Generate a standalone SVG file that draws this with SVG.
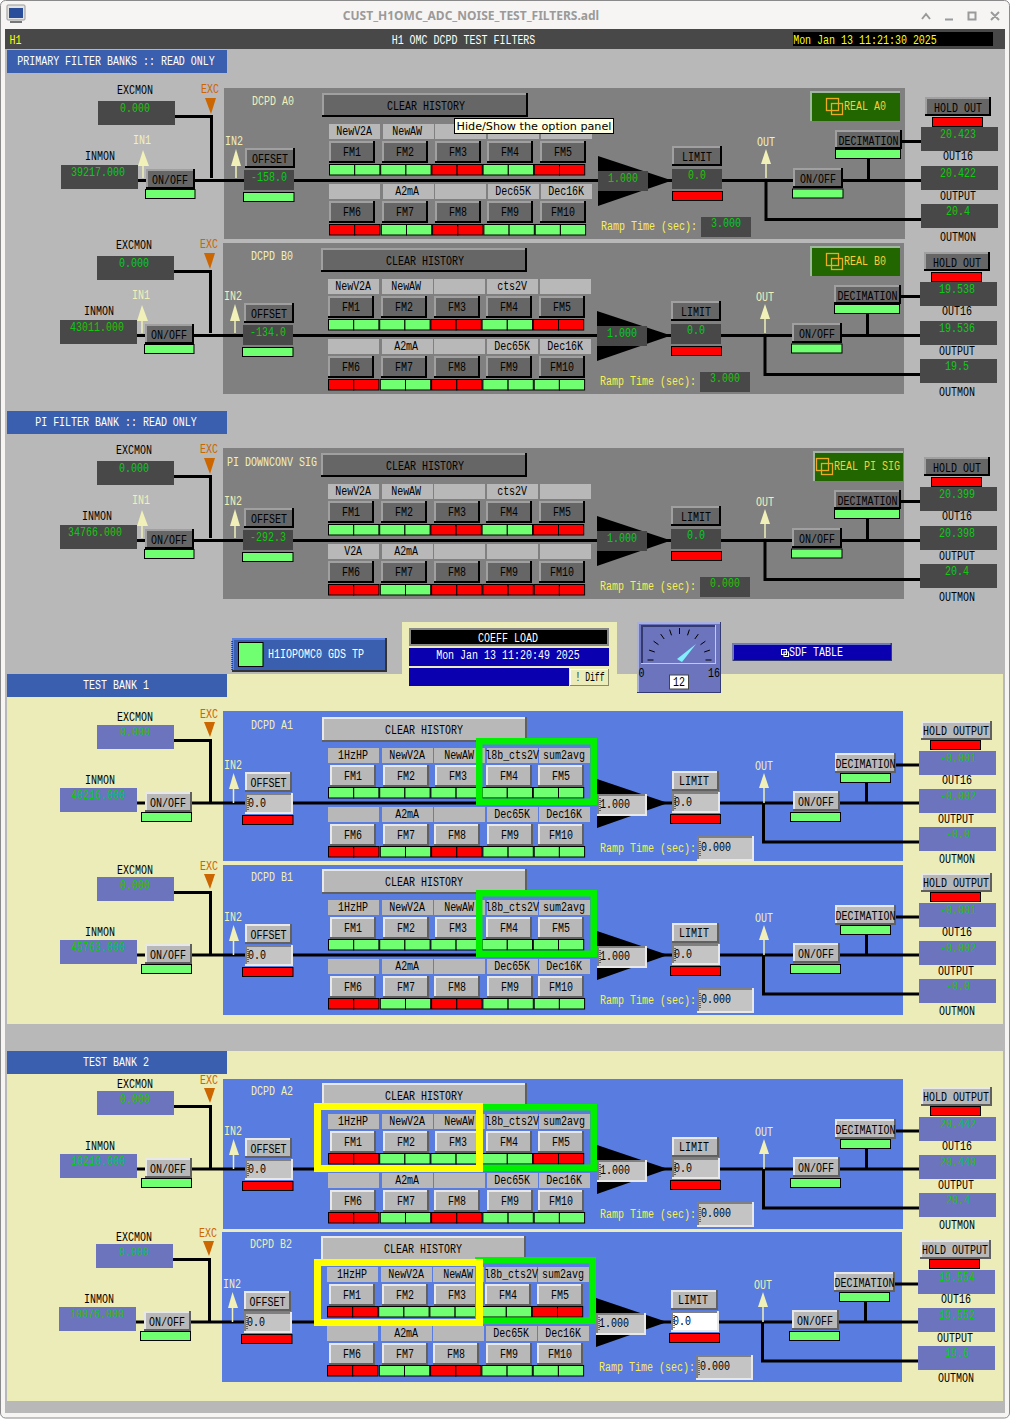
<svg xmlns="http://www.w3.org/2000/svg" width="1011" height="1419" viewBox="0 0 1011 1419">
<style>
text{font:13.5px "Liberation Mono",monospace;text-anchor:middle;transform-box:fill-box;transform-origin:center;transform:scaleX(.74);fill:#000}
.n{transform:none}
.d{--f:#666;--h:#a0a0a0;--l:#000;--b:#484848}
.s{--f:#b8b8b8;--h:#e8e8e8;--l:#606060;--b:#6b74bd}
.fa{fill:var(--f)}.hi{fill:var(--h)}.lo{fill:var(--l)}.bx{fill:var(--b)}
.lb{fill:#b8b8b8}.gr{fill:#70ff70;stroke:#000}.rd{fill:#f00;stroke:#000}
.vd{fill:#808080}.vl{fill:#e8e8e8}.vf{fill:#c4c4c4}
.ar{fill:#f0f0b8}.al{stroke:#f0f0b8;stroke-width:1.5;fill:none}.ex{fill:#c60}.tr{fill:#000}
.v{fill:#10c810}.y{fill:#f0f0b8}.o{fill:#c60}.a{fill:#f8f050}.w{fill:#fff}.rt{fill:#fc3}
.wire{fill:none;stroke:#000;stroke-width:3}
.cr{fill:none;stroke:#000;stroke-width:1;stroke-dasharray:1 1}
.hg{fill:none;stroke:#00f000;stroke-width:6.5}.hy{fill:none;stroke:#ff0;stroke-width:7}
.bar{fill:#3a5fae}.wb{fill:none;stroke:#9a9a9a;stroke-width:2}
</style>
<defs>
<g id="fm"><rect class="lo" width="46" height="22"/><rect class="hi" width="44" height="20"/><rect class="fa" x="2" y="2" width="42" height="18"/></g>
<g id="G"><rect class="gr" width="25.2" height="10.5"/><rect class="gr" x="25.2" width="25.2" height="10.5"/></g>
<g id="R"><rect class="rd" width="25.2" height="10.5"/><rect class="rd" x="25.2" width="25.2" height="10.5"/></g>
<g id="stripD">
<g class="lb"><rect x="329" y="124" width="51" height="15"/><rect x="383" y="124" width="51" height="15"/><rect x="435" y="124" width="51" height="15"/><rect x="488" y="124" width="51" height="15"/><rect x="541" y="124" width="51" height="15"/><rect x="329" y="184" width="51" height="15"/><rect x="383" y="184" width="51" height="15"/><rect x="435" y="184" width="51" height="15"/><rect x="488" y="184" width="51" height="15"/><rect x="541" y="184" width="51" height="15"/></g>
<use href="#fm" x="329" y="141"/><use href="#fm" x="382" y="141"/><use href="#fm" x="435" y="141"/><use href="#fm" x="487" y="141"/><use href="#fm" x="540" y="141"/>
<use href="#fm" x="329" y="201"/><use href="#fm" x="382" y="201"/><use href="#fm" x="435" y="201"/><use href="#fm" x="487" y="201"/><use href="#fm" x="540" y="201"/>
</g>
<g id="stripL">
<g class="lb"><rect x="328" y="748" width="51" height="15"/><rect x="382" y="748" width="51" height="15"/><rect x="434" y="748" width="51" height="15"/><rect x="487" y="748" width="51" height="15"/><rect x="539" y="748" width="51" height="15"/><rect x="328" y="807" width="51" height="15"/><rect x="382" y="807" width="51" height="15"/><rect x="434" y="807" width="51" height="15"/><rect x="487" y="807" width="51" height="15"/><rect x="539" y="807" width="51" height="15"/></g>
<use href="#fm" x="330" y="765"/><use href="#fm" x="383" y="765"/><use href="#fm" x="435" y="765"/><use href="#fm" x="486" y="765"/><use href="#fm" x="538" y="765"/>
<use href="#fm" x="330" y="824"/><use href="#fm" x="383" y="824"/><use href="#fm" x="434" y="824"/><use href="#fm" x="487" y="824"/><use href="#fm" x="538" y="824"/>
</g>
<g id="dtop"><use href="#G" x="329.5" y="164.5"/><use href="#G" x="380.7" y="164.5"/><use href="#R" x="431.9" y="164.5"/><use href="#G" x="483.1" y="164.5"/><use href="#R" x="534.3" y="164.5"/></g>
<g id="dbot"><use href="#R" x="329.5" y="224.5"/><use href="#G" x="381.3" y="224.5"/><use href="#R" x="432.6" y="224.5"/><use href="#G" x="483.9" y="224.5"/><use href="#G" x="535.2" y="224.5"/></g>
<g id="pbot"><use href="#R" x="329.5" y="224.5"/><use href="#G" x="381.3" y="224.5"/><use href="#R" x="432.6" y="224.5"/><use href="#R" x="483.9" y="224.5"/><use href="#R" x="535.2" y="224.5"/></g>
<g id="ltopG"><use href="#G" x="328.5" y="787.5"/><use href="#G" x="379.7" y="787.5"/><use href="#G" x="430.9" y="787.5"/><use href="#G" x="482.1" y="787.5"/><use href="#G" x="533.3" y="787.5"/></g>
<g id="ltopR"><use href="#R" x="328.5" y="787.5"/><use href="#G" x="379.7" y="787.5"/><use href="#G" x="430.9" y="787.5"/><use href="#G" x="482.1" y="787.5"/><use href="#R" x="533.3" y="787.5"/></g>
<g id="lbot"><use href="#R" x="328.5" y="846.5"/><use href="#G" x="380.3" y="846.5"/><use href="#R" x="431.6" y="846.5"/><use href="#G" x="482.9" y="846.5"/><use href="#G" x="534.2" y="846.5"/></g>
<g id="rl"><rect x="810" y="91" width="90" height="30" fill="#a0b8a0"/><rect x="812" y="93" width="88" height="28" fill="#226600"/></g>
<g id="ic" fill="none" stroke="#eeaa22" stroke-width="1.3"><rect x="826.5" y="98.5" width="12" height="12"/><rect x="831.5" y="103.5" width="11" height="11"/></g>
<g id="sD">
<rect class="bx" x="98" y="101" width="77" height="24"/><rect class="bx" x="61" y="165" width="77" height="24"/>
<polygon class="ex" points="205,98 216,98 211,114"/>
<polygon class="ar" points="143,150 138,166 149,166"/><path class="al" d="M143 166V178"/>
<rect class="lo" x="146" y="169" width="49" height="20"/><rect class="hi" x="146" y="169" width="47" height="18"/><rect class="fa" x="148" y="171" width="45" height="16"/>
<rect class="gr" x="145.5" y="189.5" width="49.5" height="9"/>
<polygon class="ar" points="236,149 231,166 241,166"/><path class="al" d="M236 166V178"/>
<rect class="lo" x="245" y="148" width="50" height="20"/><rect class="hi" x="245" y="148" width="48" height="18"/><rect class="fa" x="247" y="150" width="46" height="16"/>
<rect class="bx" x="244" y="170" width="50" height="20"/><rect class="gr" x="243.5" y="192.5" width="50.5" height="9"/>
<rect class="lo" x="322" y="93" width="206" height="24"/><rect class="hi" x="322" y="93" width="204" height="22"/><rect class="fa" x="324" y="95" width="202" height="20"/>
<polygon class="tr" points="598,156 672,180.5 598,206"/><rect class="bx" x="598" y="171" width="50" height="20"/>
<rect class="lo" x="672" y="146" width="50" height="20"/><rect class="hi" x="672" y="146" width="48" height="18"/><rect class="fa" x="674" y="148" width="46" height="16"/>
<rect class="bx" x="672" y="169" width="50" height="20"/><rect class="rd" x="672.5" y="191.5" width="50" height="9"/>
<polygon class="ar" points="766,149 761,164 771,164"/><path class="al" d="M766 164V178"/>
<rect class="lo" x="793" y="168" width="50" height="20"/><rect class="hi" x="793" y="168" width="48" height="18"/><rect class="fa" x="795" y="170" width="46" height="16"/>
<rect class="gr" x="792.5" y="189" width="50.5" height="9"/>
<rect class="lo" x="835" y="130" width="67" height="19"/><rect class="hi" x="835" y="130" width="65" height="17"/><rect class="fa" x="837" y="132" width="63" height="15"/>
<rect class="gr" x="835.5" y="149.5" width="65" height="9"/>
<rect class="lo" x="925" y="97" width="66" height="19"/><rect class="hi" x="925" y="97" width="64" height="17"/><rect class="fa" x="927" y="99" width="62" height="15"/>
<rect class="rd" x="932.5" y="117.5" width="50" height="9"/>
<rect class="bx" x="921" y="127" width="77" height="24"/><rect class="bx" x="921" y="166" width="77" height="24"/><rect class="bx" x="921" y="204" width="77" height="24"/>
<rect class="bx" x="701" y="217" width="50" height="20"/>
</g>
<g id="sL">
<rect class="bx" x="97" y="725" width="77" height="24"/><rect class="bx" x="60" y="788" width="77" height="24"/>
<polygon class="ex" points="204,722 215,722 210,737"/>
<rect class="lo" x="145" y="792" width="47" height="20"/><rect class="hi" x="145" y="792" width="45" height="18"/><rect class="fa" x="147" y="794" width="43" height="16"/>
<rect class="gr" x="141.5" y="812.5" width="50" height="9"/>
<polygon class="ar" points="233.5,773 229,789 239,789"/><path class="al" d="M233.5 789V803"/>
<rect class="lo" x="245" y="772" width="47" height="20"/><rect class="hi" x="245" y="772" width="45" height="18"/><rect class="fa" x="247" y="774" width="43" height="16"/>
<rect class="vl" x="245" y="793" width="48" height="21"/><rect class="vd" x="245" y="793" width="46" height="19"/><rect class="vf" x="247" y="795" width="44" height="17"/><path class="cr" d="M248 797V810"/>
<rect class="rd" x="242.5" y="815.5" width="50.5" height="9"/>
<rect class="lo" x="322" y="717" width="205" height="25"/><rect class="hi" x="322" y="717" width="203" height="23"/><rect class="fa" x="324" y="719" width="201" height="21"/>
<polygon class="tr" points="597,779 668,803 597,828"/>
<rect class="vl" x="597" y="794" width="50" height="22"/><rect class="vd" x="597" y="794" width="48" height="20"/><rect class="vf" x="599" y="796" width="46" height="18"/><path class="cr" d="M600 798V812"/>
<rect class="lo" x="672" y="771" width="47" height="20"/><rect class="hi" x="672" y="771" width="45" height="18"/><rect class="fa" x="674" y="773" width="43" height="16"/>
<rect class="vl" x="672" y="792" width="48" height="21"/><rect class="vd" x="672" y="792" width="46" height="19"/><rect class="vf" x="674" y="794" width="44" height="17"/><path class="cr" d="M675 796V809"/>
<rect class="rd" x="670.5" y="814.5" width="50" height="9"/>
<polygon class="ar" points="764,773 759,788 769,788"/><path class="al" d="M764 788V803"/>
<rect class="lo" x="793" y="791" width="47" height="20"/><rect class="hi" x="793" y="791" width="45" height="18"/><rect class="fa" x="795" y="793" width="43" height="16"/>
<rect class="gr" x="790.5" y="812.5" width="50" height="9"/>
<rect class="lo" x="835" y="753" width="61" height="20"/><rect class="hi" x="835" y="753" width="59" height="18"/><rect class="fa" x="837" y="755" width="57" height="16"/>
<rect class="gr" x="840.5" y="773.5" width="50" height="9"/>
<rect class="lo" x="921" y="721" width="71" height="19"/><rect class="hi" x="921" y="721" width="69" height="17"/><rect class="fa" x="923" y="723" width="67" height="15"/>
<rect class="rd" x="930.5" y="740.5" width="50" height="9"/>
<rect class="bx" x="919" y="751" width="77" height="24"/><rect class="bx" x="919" y="789" width="77" height="24"/><rect class="bx" x="919" y="827" width="77" height="24"/>
<rect class="vl" x="697" y="836" width="57" height="25"/><rect class="vd" x="697" y="836" width="55" height="23"/><rect class="vf" x="699" y="838" width="53" height="21"/><path class="cr" d="M700 841V856"/>
</g>
</defs>

<g id="background">
<rect width="1011" height="1419" fill="#fff"/>
<rect x=".5" y=".5" width="1009" height="1417.5" rx="5" fill="#f6f5f4" stroke="#8a8a8a"/>
<rect x="5" y="49" width="1000" height="1364" fill="#b8b8b8"/>
<rect x="5" y="29" width="1000" height="20" fill="#484848"/>
<rect x="7" y="674" width="996" height="350" fill="#ececb8"/>
<rect x="7" y="1051" width="996" height="350" fill="#ececb8"/>
<rect x="402" y="622" width="215" height="53" fill="#ececb8"/>
<rect class="bar" x="7" y="50" width="220" height="23"/>
<rect class="bar" x="7" y="411" width="220" height="23"/>
<rect class="bar" x="7" y="674" width="220" height="23"/>
<rect class="bar" x="7" y="1051" width="220" height="23"/>
<rect x="224" y="88" width="681" height="151" fill="#808080"/>
<rect x="223" y="243" width="681" height="151" fill="#808080"/>
<rect x="223" y="448" width="681" height="151" fill="#808080"/>
<rect x="223" y="711" width="680" height="150" fill="#587ce0"/>
<rect x="223" y="865" width="680" height="150" fill="#587ce0"/>
<rect x="223" y="1079" width="680" height="150" fill="#587ce0"/>
<rect x="222" y="1232" width="680" height="150" fill="#587ce0"/>
</g>

<g id="titlebar">
<rect x="7" y="5" width="18" height="15" rx="1" fill="#e4e4e4" stroke="#999"/><rect x="9" y="8" width="14" height="10" fill="#2a4e9a"/><rect x="10" y="21" width="12" height="2" fill="#777"/>
<text class="n" x="471" y="20" style="font:bold 12px 'Noto Sans',sans-serif;fill:#9a9a9a">CUST_H1OMC_ADC_NOISE_TEST_FILTERS.adl</text>
<path class="wb" d="M922 19L926 14L930 19M945 19.5H953M968.5 12.5H975.5V19.5H968.5ZM991 12L999 20M999 12L991 20"/>
<text style="fill:#ff0" x="15.5" y="44">H1</text>
<text class="w" x="463.5" y="44">H1 OMC DCPD TEST FILTERS</text>
<rect x="793" y="32" width="200" height="14" fill="#000"/>
<text style="fill:#ff0" x="865" y="44">Mon Jan 13 11:21:30 2025</text>
<text class="w" x="116" y="65">PRIMARY FILTER BANKS :: READ ONLY</text>
<text class="w" x="116" y="426">PI FILTER BANK :: READ ONLY</text>
<text class="w" x="116" y="689">TEST BANK 1</text>
<text class="w" x="116" y="1066">TEST BANK 2</text>
</g>

<g id="connectors">
<path class="wire" d="M138 180.5H921M175 116.5H211.5V178M766 180V219.5H921M900 141.5H921M868.5 159V180"/>
<path class="wire" transform="translate(-1,155)" d="M138 180.5H921M175 116.5H211.5V178M766 180V219.5H921M900 141.5H921M868.5 159V180"/>
<path class="wire" transform="translate(-1,360)" d="M138 180.5H921M175 116.5H211.5V178M766 180V219.5H921M900 141.5H921M868.5 159V180"/>
<path class="wire" d="M137 803H919M174 740.5H210.5V803M763.5 803V842H919M895 765H919M866.5 783V803"/>
<path class="wire" transform="translate(0,152)" d="M137 803H919M174 740.5H210.5V803M763.5 803V842H919M895 765H919M866.5 783V803"/>
<path class="wire" transform="translate(0,366)" d="M137 803H919M174 740.5H210.5V803M763.5 803V842H919M895 765H919M866.5 783V803"/>
<path class="wire" transform="translate(-1,519)" d="M137 803H919M174 740.5H210.5V803M763.5 803V842H919M895 765H919M866.5 783V803"/>
</g>

<g id="bank-a0" class="d">
<use href="#sD"/><use href="#stripD"/><use href="#dtop"/><use href="#dbot"/><use href="#rl"/><use href="#ic"/>
<text x="135" y="94">EXCMON</text><text x="100" y="160">INMON</text><text class="o" x="210" y="93">EXC</text><text class="y" x="142" y="144">IN1</text><text class="y" x="234" y="145">IN2</text><text class="y" x="273" y="105">DCPD A0</text>
<text class="v" x="135" y="112">0.000</text><text class="v" x="98" y="176.5">39217.000</text><text x="170" y="184">ON/OFF</text><text x="270" y="163">OFFSET</text><text class="v" x="269" y="181">-158.0</text>
<text x="426" y="110">CLEAR HISTORY</text>
<text x="354" y="135">NewV2A</text><text x="407" y="135">NewAW</text><text x="407" y="195">A2mA</text><text x="513" y="195">Dec65K</text><text x="566" y="195">Dec16K</text>
<text x="352" y="156">FM1</text><text x="405" y="156">FM2</text><text x="458" y="156">FM3</text><text x="510" y="156">FM4</text><text x="563" y="156">FM5</text><text x="352" y="216">FM6</text><text x="405" y="216">FM7</text><text x="458" y="216">FM8</text><text x="510" y="216">FM9</text><text x="563" y="216">FM10</text>
<text class="v" x="623" y="182">1.000</text><text x="697" y="161">LIMIT</text><text class="v" x="697" y="179">0.0</text><text class="y" x="766" y="146">OUT</text><text x="818" y="183">ON/OFF</text><text x="868.5" y="145">DECIMATION</text><text x="958" y="112">HOLD OUT</text>
<text class="rt" x="865" y="110">REAL A0</text>
<text class="v" x="958" y="138">20.423</text><text x="958" y="160">OUT16</text><text class="v" x="958" y="177">20.422</text><text x="958" y="200">OUTPUT</text><text class="v" x="958" y="215">20.4</text><text x="958" y="241">OUTMON</text>
<text class="a" x="649" y="230">Ramp Time (sec):</text><text class="v" x="726" y="227">3.000</text>
</g>

<g id="bank-b0" class="d" transform="translate(-1,155)">
<use href="#sD"/><use href="#stripD"/><use href="#dtop"/><use href="#dbot"/><use href="#rl" x="1"/><use href="#ic" x="1"/>
<text x="135" y="94">EXCMON</text><text x="100" y="160">INMON</text><text class="o" x="210" y="93">EXC</text><text class="y" x="142" y="144">IN1</text><text class="y" x="234" y="145">IN2</text><text class="y" x="273" y="105">DCPD B0</text>
<text class="v" x="135" y="112">0.000</text><text class="v" x="98" y="176.5">43011.000</text><text x="170" y="184">ON/OFF</text><text x="270" y="163">OFFSET</text><text class="v" x="269" y="181">-134.0</text>
<text x="426" y="110">CLEAR HISTORY</text>
<text x="354" y="135">NewV2A</text><text x="407" y="135">NewAW</text><text x="513" y="135">cts2V</text><text x="407" y="195">A2mA</text><text x="513" y="195">Dec65K</text><text x="566" y="195">Dec16K</text>
<text x="352" y="156">FM1</text><text x="405" y="156">FM2</text><text x="458" y="156">FM3</text><text x="510" y="156">FM4</text><text x="563" y="156">FM5</text><text x="352" y="216">FM6</text><text x="405" y="216">FM7</text><text x="458" y="216">FM8</text><text x="510" y="216">FM9</text><text x="563" y="216">FM10</text>
<text class="v" x="623" y="182">1.000</text><text x="697" y="161">LIMIT</text><text class="v" x="697" y="179">0.0</text><text class="y" x="766" y="146">OUT</text><text x="818" y="183">ON/OFF</text><text x="868.5" y="145">DECIMATION</text><text x="958" y="112">HOLD OUT</text>
<text class="rt" x="866" y="110">REAL B0</text>
<text class="v" x="958" y="138">19.538</text><text x="958" y="160">OUT16</text><text class="v" x="958" y="177">19.536</text><text x="958" y="200">OUTPUT</text><text class="v" x="958" y="215">19.5</text><text x="958" y="241">OUTMON</text>
<text class="a" x="649" y="230">Ramp Time (sec):</text><text class="v" x="726" y="227">3.000</text>
</g>

<g id="bank-pi" class="d" transform="translate(-1,360)">
<use href="#sD"/><use href="#stripD"/><use href="#dtop"/><use href="#pbot"/><use href="#rl" x="4"/><use href="#ic" x="-9"/>
<text x="135" y="94">EXCMON</text><text x="98" y="160">INMON</text><text class="o" x="210" y="93">EXC</text><text class="y" x="142" y="144">IN1</text><text class="y" x="234" y="145">IN2</text><text class="y" x="273" y="106">PI DOWNCONV SIG</text>
<text class="v" x="135" y="112">0.000</text><text class="v" x="96" y="176.5">34766.000</text><text x="170" y="184">ON/OFF</text><text x="270" y="163">OFFSET</text><text class="v" x="269" y="181">-292.3</text>
<text x="426" y="110">CLEAR HISTORY</text>
<text x="354" y="135">NewV2A</text><text x="407" y="135">NewAW</text><text x="513" y="135">cts2V</text><text x="354" y="195">V2A</text><text x="407" y="195">A2mA</text>
<text x="352" y="156">FM1</text><text x="405" y="156">FM2</text><text x="458" y="156">FM3</text><text x="510" y="156">FM4</text><text x="563" y="156">FM5</text><text x="352" y="216">FM6</text><text x="405" y="216">FM7</text><text x="458" y="216">FM8</text><text x="510" y="216">FM9</text><text x="563" y="216">FM10</text>
<text class="v" x="623" y="182">1.000</text><text x="697" y="161">LIMIT</text><text class="v" x="697" y="179">0.0</text><text class="y" x="766" y="146">OUT</text><text x="818" y="183">ON/OFF</text><text x="868.5" y="145">DECIMATION</text><text x="958" y="112">HOLD OUT</text>
<text class="rt" x="868" y="110">REAL PI SIG</text>
<text class="v" x="958" y="138">20.399</text><text x="958" y="160">OUT16</text><text class="v" x="958" y="177">20.398</text><text x="958" y="200">OUTPUT</text><text class="v" x="958" y="215">20.4</text><text x="958" y="241">OUTMON</text>
<text class="a" x="649" y="230">Ramp Time (sec):</text><text class="v" x="726" y="227">0.000</text>
</g>

<g id="tooltip">
<rect x="454.5" y="118.5" width="159" height="15" fill="#ffffe1" stroke="#000"/>
<text class="n" x="534" y="130" style="font:11.2px 'DejaVu Sans',sans-serif">Hide/Show the option panel</text>
</g>

<g id="gds-tp">
<rect x="232" y="638" width="155" height="34" fill="#333"/><rect x="232" y="638" width="153" height="32" fill="#5a80e0"/><rect x="234" y="640" width="151" height="30" class="bar"/>
<path class="cr" d="M232 641V670"/>
<rect x="238.5" y="642.5" width="24.5" height="24" fill="#70ff70" stroke="#000"/>
<text class="w" x="316" y="658">H1IOPOMC0 GDS TP</text>
</g>
<g id="coeff-load">
<rect x="409" y="628" width="200" height="18" fill="#888"/><rect x="411" y="630" width="196" height="14" fill="#000"/>
<text class="w" x="508" y="642">COEFF LOAD</text>
<rect x="409" y="648" width="200" height="18" fill="#0a00b0"/>
<text class="w" x="508" y="659">Mon Jan 13 11:20:49 2025</text>
<rect x="409" y="668" width="160" height="18" fill="#0a00b0"/>
<rect x="570" y="669" width="39" height="17" fill="#8a8a68"/><rect x="570" y="669" width="38" height="16" fill="#fff"/><rect x="571" y="670" width="37" height="15" fill="#ececb8"/>
<text x="590" y="681" style="transform:scaleX(.6)">! Diff</text>
</g>
<g id="gauge">
<rect x="637" y="622" width="84" height="71" fill="#333a70"/><rect x="637" y="622" width="83" height="70" fill="#a8b0e0"/><rect x="639" y="624" width="81" height="68" fill="#6b74bd"/>
<rect x="641" y="625" width="75" height="39" fill="#c0c8f0"/><rect x="641" y="625" width="74" height="38" fill="#333a70"/><rect x="643" y="627" width="72" height="36" fill="#6b74bd"/>
<path d="M647.5 660H653.5M649.1 650.1L654.8 652M653.6 641.2L658.5 644.7M660.7 634.1L664.2 639M669.6 629.6L671.5 635.3M679.5 628V634M689.4 629.6L687.5 635.3M698.3 634.1L694.8 639M705.4 641.2L700.5 644.7M709.9 650.1L704.2 652M711.5 660H705.5" stroke="#000" fill="none"/>
<polygon points="677,659 682,662 696,644" fill="#80f0ff"/>
<text x="641.5" y="677">0</text><text x="714" y="677">16</text>
<rect x="669.5" y="675" width="19" height="14" fill="#fff" stroke="#444"/><text x="679" y="686.5">12</text>
</g>
<g id="sdf-table">
<rect x="732.5" y="643" width="159.5" height="18" fill="#333a70"/><rect x="732.5" y="643" width="158" height="16.5" fill="#7078c0"/><rect x="734" y="645" width="157" height="15" fill="#0a00b0"/>
<g fill="none" stroke="#fff"><rect x="781.5" y="649.5" width="5" height="5"/><rect x="784" y="652" width="4.5" height="4.5"/></g>
<text class="w" x="816" y="656">SDF TABLE</text>
</g>

<g id="bank-a1" class="s">
<use href="#sL"/><use href="#stripL"/><use href="#ltopG"/><use href="#lbot"/>
<text x="135" y="721">EXCMON</text><text x="100" y="784">INMON</text><text class="o" x="209" y="718">EXC</text><text class="y" x="233" y="769">IN2</text><text class="y" x="272" y="729">DCPD A1</text>
<text class="v" x="135" y="736">0.000</text><text class="v" x="98" y="799.5">40216.000</text><text x="168" y="807">ON/OFF</text><text x="268.5" y="787">OFFSET</text><text x="257" y="807">0.0</text>
<text x="424" y="734">CLEAR HISTORY</text>
<text x="353" y="759">1HzHP</text><text x="407" y="759">NewV2A</text><text x="459" y="759">NewAW</text><text x="512" y="759">l8b_cts2V</text><text x="564" y="759">sum2avg</text><text x="407" y="818">A2mA</text><text x="512" y="818">Dec65K</text><text x="564" y="818">Dec16K</text>
<text x="353" y="780">FM1</text><text x="406" y="780">FM2</text><text x="458" y="780">FM3</text><text x="509" y="780">FM4</text><text x="561" y="780">FM5</text><text x="353" y="839">FM6</text><text x="406" y="839">FM7</text><text x="457" y="839">FM8</text><text x="510" y="839">FM9</text><text x="561" y="839">FM10</text>
<text x="615" y="808">1.000</text><text x="694" y="785">LIMIT</text><text x="683" y="806">0.0</text><text class="y" x="764" y="770">OUT</text><text x="816" y="806">ON/OFF</text><text x="865.5" y="768">DECIMATION</text><text x="956" y="735">HOLD OUTPUT</text>
<text class="v" x="958" y="762">-0.001</text><text x="957" y="784">OUT16</text><text class="v" x="958" y="800">-0.002</text><text x="956" y="823">OUTPUT</text><text class="v" x="958" y="838">-0.0</text><text x="957" y="863">OUTMON</text>
<text class="a" x="648" y="852">Ramp Time (sec):</text><text x="716" y="851">0.000</text>
<rect class="hg" x="479.25" y="741.25" width="114.5" height="60.5"/>
</g>

<g id="bank-b1" class="s" transform="translate(0,152)">
<use href="#sL"/><use href="#stripL"/><use href="#ltopG"/><use href="#lbot"/>
<text x="135" y="722">EXCMON</text><text x="100" y="784">INMON</text><text class="o" x="209" y="718">EXC</text><text class="y" x="233" y="769">IN2</text><text class="y" x="272" y="729">DCPD B1</text>
<text class="v" x="135" y="737">0.000</text><text class="v" x="98" y="799.5">45763.000</text><text x="168" y="807">ON/OFF</text><text x="268.5" y="787">OFFSET</text><text x="257" y="807">0.0</text>
<text x="424" y="734">CLEAR HISTORY</text>
<text x="353" y="759">1HzHP</text><text x="407" y="759">NewV2A</text><text x="459" y="759">NewAW</text><text x="512" y="759">l8b_cts2V</text><text x="564" y="759">sum2avg</text><text x="407" y="818">A2mA</text><text x="512" y="818">Dec65K</text><text x="564" y="818">Dec16K</text>
<text x="353" y="780">FM1</text><text x="406" y="780">FM2</text><text x="458" y="780">FM3</text><text x="509" y="780">FM4</text><text x="561" y="780">FM5</text><text x="353" y="839">FM6</text><text x="406" y="839">FM7</text><text x="457" y="839">FM8</text><text x="510" y="839">FM9</text><text x="561" y="839">FM10</text>
<text x="615" y="808">1.000</text><text x="694" y="785">LIMIT</text><text x="683" y="806">0.0</text><text class="y" x="764" y="770">OUT</text><text x="816" y="806">ON/OFF</text><text x="865.5" y="768">DECIMATION</text><text x="956" y="735">HOLD OUTPUT</text>
<text class="v" x="958" y="762">-0.001</text><text x="957" y="784">OUT16</text><text class="v" x="958" y="800">-0.002</text><text x="956" y="823">OUTPUT</text><text class="v" x="958" y="838">-0.0</text><text x="957" y="863">OUTMON</text>
<text class="a" x="648" y="852">Ramp Time (sec):</text><text x="716" y="851">0.000</text>
<rect class="hg" x="479.25" y="741.25" width="114.5" height="60.5"/>
</g>

<g id="bank-a2" class="s" transform="translate(0,366)">
<use href="#sL"/><use href="#stripL"/><use href="#ltopR"/><use href="#lbot"/>
<text x="135" y="722">EXCMON</text><text x="100" y="784">INMON</text><text class="o" x="209" y="718">EXC</text><text class="y" x="233" y="769">IN2</text><text class="y" x="272" y="729">DCPD A2</text>
<text class="v" x="135" y="737">0.000</text><text class="v" x="98" y="799.5">10210.000</text><text x="168" y="807">ON/OFF</text><text x="268.5" y="787">OFFSET</text><text x="257" y="807">0.0</text>
<text x="424" y="734">CLEAR HISTORY</text>
<text x="353" y="759">1HzHP</text><text x="407" y="759">NewV2A</text><text x="459" y="759">NewAW</text><text x="512" y="759">l8b_cts2V</text><text x="564" y="759">sum2avg</text><text x="407" y="818">A2mA</text><text x="512" y="818">Dec65K</text><text x="564" y="818">Dec16K</text>
<text x="353" y="780">FM1</text><text x="406" y="780">FM2</text><text x="458" y="780">FM3</text><text x="509" y="780">FM4</text><text x="561" y="780">FM5</text><text x="353" y="839">FM6</text><text x="406" y="839">FM7</text><text x="457" y="839">FM8</text><text x="510" y="839">FM9</text><text x="561" y="839">FM10</text>
<text x="615" y="808">1.000</text><text x="694" y="785">LIMIT</text><text x="683" y="806">0.0</text><text class="y" x="764" y="770">OUT</text><text x="816" y="806">ON/OFF</text><text x="865.5" y="768">DECIMATION</text><text x="956" y="735">HOLD OUTPUT</text>
<text class="v" x="958" y="762">20.442</text><text x="957" y="784">OUT16</text><text class="v" x="958" y="800">20.440</text><text x="956" y="823">OUTPUT</text><text class="v" x="958" y="838">20.4</text><text x="957" y="863">OUTMON</text>
<text class="a" x="648" y="852">Ramp Time (sec):</text><text x="716" y="851">0.000</text>
<rect class="hg" x="479.25" y="741.25" width="114.5" height="60.5"/><rect class="hy" x="317.5" y="740.5" width="162" height="62"/>
</g>

<g id="bank-b2" class="s" transform="translate(-1,519)">
<use href="#sL"/><use href="#stripL"/><use href="#ltopR"/><use href="#lbot"/>
<rect x="674" y="794" width="44" height="17" fill="#fff"/><path class="cr" d="M675 796V809"/>
<text x="135" y="722">EXCMON</text><text x="100" y="784">INMON</text><text class="o" x="209" y="718">EXC</text><text class="y" x="233" y="769">IN2</text><text class="y" x="272" y="729">DCPD B2</text>
<text class="v" x="135" y="737">0.000</text><text class="v" x="98" y="799.5">10076.000</text><text x="168" y="807">ON/OFF</text><text x="268.5" y="787">OFFSET</text><text x="257" y="807">0.0</text>
<text x="424" y="734">CLEAR HISTORY</text>
<text x="353" y="759">1HzHP</text><text x="407" y="759">NewV2A</text><text x="459" y="759">NewAW</text><text x="512" y="759">l8b_cts2V</text><text x="564" y="759">sum2avg</text><text x="407" y="818">A2mA</text><text x="512" y="818">Dec65K</text><text x="564" y="818">Dec16K</text>
<text x="353" y="780">FM1</text><text x="406" y="780">FM2</text><text x="458" y="780">FM3</text><text x="509" y="780">FM4</text><text x="561" y="780">FM5</text><text x="353" y="839">FM6</text><text x="406" y="839">FM7</text><text x="457" y="839">FM8</text><text x="510" y="839">FM9</text><text x="561" y="839">FM10</text>
<text x="615" y="808">1.000</text><text x="694" y="785">LIMIT</text><text x="683" y="806">0.0</text><text class="y" x="764" y="770">OUT</text><text x="816" y="806">ON/OFF</text><text x="865.5" y="768">DECIMATION</text><text x="956" y="735">HOLD OUTPUT</text>
<text class="v" x="958" y="762">19.554</text><text x="957" y="784">OUT16</text><text class="v" x="958" y="800">19.552</text><text x="956" y="823">OUTPUT</text><text class="v" x="958" y="838">19.6</text><text x="957" y="863">OUTMON</text>
<text class="a" x="648" y="852">Ramp Time (sec):</text><text x="716" y="851">0.000</text>
<rect class="hg" x="479.25" y="741.25" width="114.5" height="60.5"/><rect class="hy" x="318.5" y="743.5" width="162" height="60"/>
</g>
</svg>
